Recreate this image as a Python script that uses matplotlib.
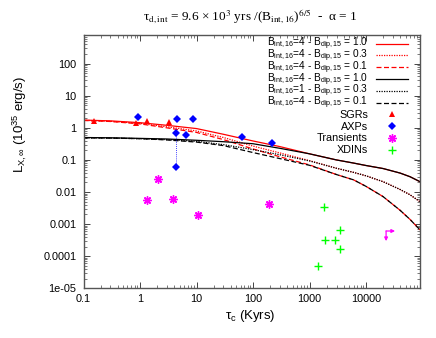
import matplotlib
matplotlib.use("Agg")
import matplotlib.pyplot as plt
from matplotlib.lines import Line2D
from matplotlib.ticker import FixedLocator, NullFormatter, LogLocator

plt.rcParams['font.family'] = ['Liberation Sans', 'DejaVu Sans']
plt.rcParams['mathtext.fontset'] = 'custom'
plt.rcParams['mathtext.rm'] = 'Liberation Sans'
plt.rcParams['mathtext.it'] = 'Liberation Sans:italic'

# ---- model curves ----
tau_grid = [0.1, 0.3, 1, 3, 10, 30, 100, 300, 1000, 3000, 6000, 10000, 20000, 40000, 60000, 90000]
red_b1 = [1.75, 1.65, 1.45, 1.2, 0.95, 0.63, 0.39, 0.26, 0.155, 0.10, 0.080, 0.067, 0.054, 0.039, 0.030, 0.021]
red_b03 = [1.72, 1.60, 1.38, 1.08, 0.80, 0.50, 0.27, 0.165, 0.095, 0.055, 0.041, 0.032, 0.021, 0.012, 0.0082, 0.005]
red_b01 = [1.70, 1.58, 1.33, 1.00, 0.72, 0.43, 0.22, 0.125, 0.070, 0.035, 0.024, 0.015, 0.0072, 0.0027, 0.0014, 0.00066]
blk_b1 = [0.50, 0.49, 0.47, 0.45, 0.41, 0.37, 0.32, 0.23, 0.155, 0.10, 0.080, 0.067, 0.054, 0.039, 0.030, 0.021]
blk_b03 = [0.49, 0.48, 0.46, 0.43, 0.38, 0.30, 0.21, 0.145, 0.093, 0.055, 0.041, 0.032, 0.021, 0.012, 0.0082, 0.005]
blk_b01 = [0.49, 0.48, 0.46, 0.42, 0.36, 0.28, 0.17, 0.11, 0.068, 0.035, 0.024, 0.015, 0.0072, 0.0027, 0.0014, 0.00066]

curve_labels = [
    r'B$_{\rm int,16}$=4 - B$_{\rm dip,15}$ = 1.0',
    r'B$_{\rm int,16}$=4 - B$_{\rm dip,15}$ = 0.3',
    r'B$_{\rm int,16}$=4 - B$_{\rm dip,15}$ = 0.1',
    r'B$_{\rm int,16}$=4 - B$_{\rm dip,15}$ = 1.0',
    r'B$_{\rm int,16}$=1 - B$_{\rm dip,15}$ = 0.3',
    r'B$_{\rm int,16}$=4 - B$_{\rm dip,15}$ = 0.1',
]
source_labels = ['SGRs', 'AXPs', 'Transients', 'XDINs']

# ---- sources ----
sgr_tau = [0.155, 0.86, 1.35, 3.26]
sgr_L = [1.63, 1.41, 1.66, 1.48]
axp_tau = [0.91, 4.57, 8.67, 4.33, 6.5, 4.33, 64.6, 220]
axp_L = [2.22, 1.92, 1.92, 0.69, 0.61, 0.059, 0.53, 0.34]
axp_link_tau = [4.33, 4.33]
axp_link_L = [0.69, 0.059]
tr_tau = [2.11, 1.35, 3.84, 10.6, 192]
tr_L = [0.0249, 0.0058, 0.0062, 0.00188, 0.0043]
tr_lim_tau = [22600, 32600]
tr_lim_L = [0.00061, 0.000295]
xdin_tau = [1810, 3510, 1905, 2820, 3510, 1430]
xdin_L = [0.00334, 0.00067, 0.000313, 0.000316, 0.000164, 4.8e-5]

xticks = [0.1, 1, 10, 100, 1000, 10000]
xtick_labels = ['0.1', '1', '10', '100', '1000', '10000']
yticks = [1e-5, 1e-4, 1e-3, 1e-2, 1e-1, 1, 10, 100]
ytick_labels = ['1e-05', '0.0001', '0.001', '0.01', '0.1', '1', '10', '100']

W, H = 436, 338
fig = plt.figure(figsize=(W / 100, H / 100), dpi=100)
ax = fig.add_axes([83.5 / W, 1 - 288.3 / H, (420 - 83.5) / W, (288.3 - 34.7) / H])
ax.set_xscale('log')
ax.set_yscale('log')

styles = [('#ff0000', '-'), ('#ff0000', (0, (1, 1))), ('#ff0000', (0, (4, 2))),
          ('#000000', '-'), ('#000000', (0, (1, 1))), ('#000000', (0, (4, 2)))]
series = [red_b1, red_b03, red_b01, blk_b1, blk_b03, blk_b01]
for (c, ls), ys in zip(styles, series):
    ax.plot(tau_grid, ys, color=c, ls=ls, lw=0.9)

ax.plot(axp_link_tau, axp_link_L, color='#0000ff', ls=(0, (1, 1.5)), lw=0.6)
mk = [dict(marker='^', color='#ff0000', ms=4.5, mew=0),
      dict(marker='D', color='#0000ff', ms=3.8, mew=0),
      dict(marker=(8, 2, 0), color='#ff00ff', ms=6, mew=1.0),
      dict(marker='+', color='#00ff00', ms=6, mew=1.0)]
ax.plot(sgr_tau, sgr_L, ls='none', **mk[0])
ax.plot(axp_tau, axp_L, ls='none', **mk[1])
ax.plot(tr_tau, tr_L, ls='none', **mk[2])
ax.plot(xdin_tau, xdin_L, ls='none', **mk[3])

# upper-limit arrows for one transient
for xy in [(tr_lim_tau[1], tr_lim_L[0]), (tr_lim_tau[0], tr_lim_L[1])]:
    ax.annotate('', xy=xy, xytext=(tr_lim_tau[0], tr_lim_L[0]),
                arrowprops=dict(arrowstyle='-|>', color='#ff00ff', lw=0.9, mutation_scale=5,
                                shrinkA=0, shrinkB=0))

ax.set_xlim(0.1, 90000)
ax.set_ylim(1e-5, 800)

ax.xaxis.set_major_locator(FixedLocator(xticks))
ax.set_xticklabels(xtick_labels)
ax.yaxis.set_major_locator(FixedLocator(yticks))
ax.set_yticklabels(ytick_labels)
ax.xaxis.set_minor_locator(LogLocator(base=10, subs=range(2, 10), numticks=20))
ax.yaxis.set_minor_locator(LogLocator(base=10, subs=range(2, 10), numticks=20))
ax.xaxis.set_minor_formatter(NullFormatter())
ax.yaxis.set_minor_formatter(NullFormatter())
ax.tick_params(which='both', direction='in', top=True, right=True, labelsize=7.8, color='#444444')
ax.tick_params(which='major', length=4, width=0.7)
ax.tick_params(which='minor', length=2, width=0.5)
ax.tick_params(axis='x', pad=4)
ax.tick_params(axis='y', pad=5)
for s in ax.spines.values():
    s.set_color('#555555')
    s.set_linewidth(1.0)

# ---- manual gnuplot-style key ----
def fx(px):
    return px / W

def fy(py):
    return 1 - py / H

row0, drow = 43.5, 11.8
text_right, line_l, line_r = 368, 376, 408
for i, ((c, ls), lab) in enumerate(zip(styles, curve_labels)):
    y = row0 + i * drow
    fig.text(fx(text_right), fy(y + 3.0), lab, ha='right', va='baseline', fontsize=7.3)
    fig.add_artist(Line2D([fx(line_l), fx(line_r)], [fy(y), fy(y)], color=c, ls=ls, lw=0.9))
for j, (lab, m) in enumerate(zip(source_labels, mk)):
    y = row0 + (6 + j) * drow
    fig.text(fx(text_right), fy(y + 3.5), lab, ha='right', va='baseline', fontsize=7.8)
    fig.add_artist(Line2D([fx((line_l + line_r) / 2)], [fy(y)], ls='none', **m))

fig.text(250 / W, 1 - 316 / H, r'τ$_{\rm c}$ (Kyrs)', ha='center', va='center', fontsize=9.5)
fig.text(20 / W, 1 - 124 / H, r'L$_{\rm X,\infty}$ (10$^{35}$ erg/s)', ha='center', va='center',
         rotation=90, fontsize=9.5)
fig.text(250 / W, 1 - 17 / H,
         r'τ$_{\rm d,int}$ = 9.6 × 10$^{\rm 3}$ yrs /(B$_{\rm int,16}$)$^{\rm 6/5}$  -  α = 1',
         ha='center', va='center', fontsize=9.5, family=['Liberation Serif', 'DejaVu Serif'],
         math_fontfamily='stix')

fig.savefig('out.png', dpi=100)
